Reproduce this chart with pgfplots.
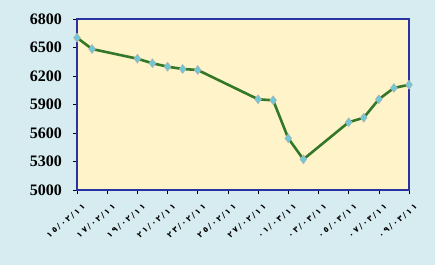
\documentclass[border=0pt]{standalone}
\usepackage{pgfplots}
\pgfplotsset{compat=1.18}
\usepackage{fontspec}
\setmainfont{Liberation Serif}
\newfontfamily\arabicdigits[LetterSpace=22]{DejaVu Sans}
\definecolor{bgblue}{RGB}{214,236,240}
\definecolor{plotbg}{RGB}{255,243,202}
\definecolor{axblue}{RGB}{40,50,160}
\definecolor{linegreen}{RGB}{50,120,40}
\definecolor{mkfill}{RGB}{110,200,215}
\begin{document}
\begin{tikzpicture}[x=1pt,y=1pt]
\fill[bgblue] (0,0) rectangle (435,265);
\useasboundingbox (0,0) rectangle (435,265);
\begin{axis}[
  at={(77pt,75pt)}, anchor=south west,
  scale only axis, width=332pt, height=171pt,
  xmin=0, xmax=22, ymin=5000, ymax=6800,
  ytick={5000,5300,5600,5900,6200,6500,6800},
  xtick={0,2,...,22},
  xticklabels={١٥/٠٢/١١,١٧/٠٢/١١,١٩/٠٢/١١,٢١/٠٢/١١,٢٣/٠٢/١١,٢٥/٠٢/١١,٢٧/٠٢/١١,٠١/٠٣/١١,٠٣/٠٣/١١,٠٥/٠٣/١١,٠٧/٠٣/١١,٠٩/٠٣/١١},
  x tick label style={font=\arabicdigits\fontsize{8}{9}\selectfont\bfseries, rotate=40, anchor=north east, inner sep=0pt, xshift=-2pt, yshift=-10pt},
  y tick label style={font=\fontsize{16}{17}\selectfont\bfseries, inner sep=2pt, xshift=-9pt},
  /pgf/number format/assume math mode=true,
  /pgf/number format/set thousands separator={},
  tick align=outside, major tick length=4pt,
  tick style={black, line width=0.6pt},
  xtick pos=bottom, ytick pos=left,
  axis line style={axblue, line width=1.4pt},
  axis background/.style={fill=plotbg},
  clip=false,
]
\addplot[linegreen, line width=2.6pt, mark=diamond*, mark size=4.5pt,
  mark options={fill=mkfill, draw=gray!60, line width=0.5pt}] coordinates {
(0,6603) (1,6484) (4,6382) (5,6334) (6,6298) (7,6274) (8,6263)
(12,5955) (13,5944) (14,5544) (15,5323) (18,5713) (19,5761) (20,5955) (21,6074) (22,6108)
};
\end{axis}
\end{tikzpicture}
\end{document}
